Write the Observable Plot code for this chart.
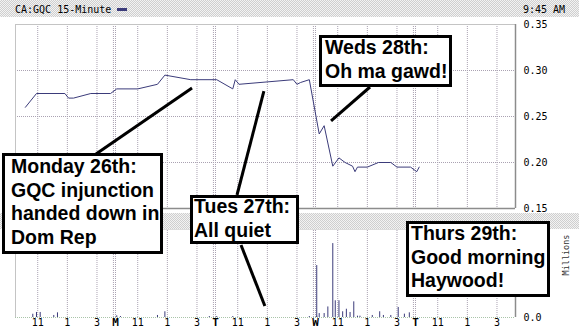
<!DOCTYPE html>
<html><head><meta charset="utf-8">
<script src="https://cdn.jsdelivr.net/npm/d3@7"></script>
<script src="https://cdn.jsdelivr.net/npm/@observablehq/plot@0.6"></script>
<style>
body{margin:0;background:#fff;}
#c{position:relative;width:579px;height:335px;overflow:hidden;font-family:"DejaVu Sans Mono",monospace;}
.pat{position:absolute;left:0;width:579px;background:repeating-conic-gradient(#cfcfcf 0 25%, #f3f3f3 0 50%) 0 0/2px 2px;}
.abs{position:absolute;}
#c svg{position:absolute;left:0;}
.hdr{position:absolute;font-size:10px;line-height:10px;color:#000;white-space:pre;}
</style></head>
<body><div id="c"></div>
<script>
// ---------- data ----------
const dayLetters = ["", "M", "T", "W", "T"];
const hourTicks = [11, 13, 15];
const hourLabels = ["11", "1", "3"];
const priceTicks = [0.15, 0.20, 0.25, 0.30, 0.35];
const volumeTicks = [0];

const priceDay   = [0,0,0,0,0,0,0, 1,1,1,1,1, 2,2,2,2,2,2,2,2, 3,3,3,3,3,3,3,3,3,3,3,3,3, 4,4];
const priceTime  = ["10:10","10:55","12:50","13:05","13:25","14:35","15:55",
                    "09:35","11:00","12:20","12:50","14:35",
                    "09:35","10:40","10:50","11:05","14:45","15:00","15:15","15:50",
                    "09:45","10:05","10:40","11:05","11:30","12:00","12:10","12:20","13:00","13:45","14:35","15:00","15:55",
                    "09:35","09:45"];
const priceValue = [0.260,0.275,0.275,0.270,0.270,0.275,0.275,
                    0.280,0.280,0.285,0.295,0.290,
                    0.290,0.280,0.290,0.285,0.290,0.285,0.287,0.290,
                    0.231,0.240,0.196,0.205,0.200,0.196,0.190,0.195,0.195,0.200,0.200,0.195,0.195,
                    0.190,0.195];

const volDay   = [0,0,0,0,0, 1,1,1,1,1, 2,2,2, 3,3,3,3,3,3,3,3,3,3,3,3,3,3,3,3,3,3,3,3,3, 4];
const volTime  = ["10:40","10:55","11:10","12:05","12:20",
                  "09:35","09:50","12:20","12:50","15:50",
                  "09:35","10:40","15:50",
                  "09:35","09:45","10:05","10:20","10:40","10:50","11:05","11:20","11:35","11:50","12:05","12:20","12:30","13:20","13:50","14:05","14:35","15:05","15:30","15:50",
                  "09:35"];
const volValue = [0.037,0.057,0.057,0.023,0.053,
                  0.019,0.011,0.023,0.065,0.011,
                  0.011,0.011,0.011,
                  0.59,0.045,0.045,0.12,0.84,0.19,0.19,0.065,0.094,0.057,0.178,0.015,0.015,0.023,0.065,0.023,0.023,0.114,0.038,0.053,
                  0.015];

const notes = [
  {lines:["Monday 26th:","GQC injunction","handed down in","Dom Rep"]},
  {lines:["Tues 27th:","All quiet"]},
  {lines:["Weds 28th:","Oh ma gawd!"]},
  {lines:["Thurs 29th:","Good morning","Haywood!"]}
];
// leader targets in data coordinates: [day, time, value, panel]
const leaderTargets = [
  [1,"14:42",0.2804,"price"],
  [2,"12:48",0.277,"price"],
  [2,"12:52",0.125,"volume"],
  [3,"10:35",0.2446,"price"]
];

// ---------- helpers ----------
const sessionHours = 6.75, openHour = 9.5, nDays = 5;
function pos(d, t){ const [h,m] = t.split(":").map(Number); return d*sessionHours + (h + m/60 - openHour); }
const price = priceValue.map((v,i)=>({x:pos(priceDay[i],priceTime[i]), v}));
const vol = volValue.map((v,i)=>({x:pos(volDay[i],volTime[i]), v}));
const xDomain = [0, nDays*sessionHours];
const hourTickData = [], dayTickData = [], grid = [];
for (let d=0; d<nDays; d++){
  hourTicks.forEach((h,i)=>{ const x=d*sessionHours+(h-openHour); hourTickData.push({x,label:hourLabels[i]}); grid.push(x); });
  if (dayLetters[d]) { dayTickData.push({x:d*sessionHours,label:dayLetters[d]}); grid.push(d*sessionHours, d*sessionHours-0.14); }
}
const navy = "#3b3b7a", gridC = "#aaa2b2", frameL = "#c4c4c4", frameD = "#8c8c8c";
const font = {fontFamily:"DejaVu Sans Mono, monospace", fontSize:"10px", background:"transparent", color:"#000", overflow:"visible"};

const c = document.getElementById("c");
function addDiv(cls, css, html){ const e=document.createElement("div"); e.className=cls; Object.assign(e.style, css); if(html!=null) e.innerHTML=html; c.appendChild(e); return e; }
addDiv("pat",{top:"0px",height:"17px"});
addDiv("pat",{top:"213px",height:"16px"});

const upper = Plot.plot({
  width:579, height:213, marginLeft:15, marginRight:64, marginTop:24, marginBottom:5,
  x:{domain:xDomain, axis:null},
  y:{domain:[0.15,0.35], axis:"right", ticks:priceTicks, tickFormat:d=>d.toFixed(2), tickSize:0, tickPadding:8, label:null},
  style:font,
  marks:[
    Plot.ruleY(priceTicks.slice(1,-1), {stroke:gridC, strokeDasharray:"1 1"}),
    Plot.ruleX(grid, {stroke:gridC, strokeDasharray:"1 1"}),
    Plot.ruleY([0.35], {stroke:frameL}),
    Plot.ruleX([xDomain[0]], {stroke:frameL}),
    Plot.ruleX([xDomain[1]], {stroke:frameD, strokeWidth:1.5}),
    Plot.ruleY([0.15], {stroke:frameD, strokeWidth:1.5}),
    Plot.line(price, {x:"x", y:"v", stroke:navy, strokeWidth:1})
  ]
});
upper.style.top="0px";
c.appendChild(upper);

const lowerTop = 229;
const lower = Plot.plot({
  width:579, height:106, marginLeft:15, marginRight:64, marginTop:0, marginBottom:18,
  x:{domain:xDomain, axis:null},
  y:{domain:[0,1], axis:"right", ticks:volumeTicks, tickFormat:d=>d.toFixed(1), tickSize:0, tickPadding:8, label:null},
  style:font,
  marks:[
    Plot.ruleX(grid, {y1:()=>0, y2:()=>1, stroke:gridC, strokeDasharray:"1 1"}),
    Plot.ruleX([xDomain[0]], {stroke:frameL}),
    Plot.ruleY([1], {stroke:"#ddd"}),
    Plot.ruleX([xDomain[1]], {stroke:frameD, strokeWidth:1.5}),
    Plot.ruleY([0], {stroke:"#a9c4a9", strokeDasharray:"1 1"}),
    Plot.ruleX(vol, {x:"x", y1:()=>0, y2:"v", stroke:navy, strokeWidth:1}),
    Plot.text(hourTickData, {x:"x", text:"label", frameAnchor:"bottom", dy:8, fill:"#000"}),
    Plot.text(dayTickData, {x:"x", text:"label", frameAnchor:"bottom", dy:8, fill:"#000", fontWeight:"bold", fontSize:11})
  ]
});
lower.style.top=lowerTop+"px";
c.appendChild(lower);

// header
addDiv("hdr",{left:"15px",top:"5px"},"CA:GQC 15-Minute");
addDiv("abs",{left:"117px",top:"8px",width:"10px",height:"3px",background:navy});
addDiv("hdr",{left:"523px",top:"5px"},"9:45 AM");
addDiv("abs",{left:"561px",top:"250px",width:"10px",height:"10px"}).innerHTML =
  '<div style="position:absolute;left:0;top:0;transform:translate(-50%,-50%) rotate(-90deg);transform-origin:50% 50%;font-size:8.5px;color:#333;white-space:nowrap;line-height:9px;margin-left:5px;margin-top:5px">Millions</div>';

// annotations overlay
const xs = upper.scale("x"), ysP = upper.scale("y"), ysV = lower.scale("y");
const ns = "http://www.w3.org/2000/svg";
const ov = document.createElementNS(ns,"svg");
ov.setAttribute("width",579); ov.setAttribute("height",335);
ov.style.position="absolute"; ov.style.left="0"; ov.style.top="0";
c.appendChild(ov);
function el(tag, attrs, parent){ const e=document.createElementNS(ns,tag); for(const k in attrs) e.setAttribute(k,attrs[k]); (parent||ov).appendChild(e); return e; }
// leader lines (box side start, data target end)
const leaderStarts = [[96,154],[237,195],[241,245],[370,87]];
leaderTargets.forEach(([d,t,v,p],i)=>{
  const tx = xs.apply(pos(d,t));
  const ty = p==="price" ? ysP.apply(v) : lowerTop + ysV.apply(v);
  el("line",{x1:leaderStarts[i][0],y1:leaderStarts[i][1],x2:tx,y2:ty,stroke:"#000","stroke-width":3});
});
const boxes = [
  {x:2,y:153,w:161,h:101,tx:11,ty:173},
  {x:190,y:195,w:109,h:49,tx:194,ty:213},
  {x:319,y:35,w:133,h:52,tx:325,ty:54},
  {x:406,y:221,w:144,h:76,tx:411,ty:240}
];
boxes.forEach((b,i)=>{
  el("rect",{x:b.x+1.5,y:b.y+1.5,width:b.w-3,height:b.h-3,fill:"#fff",stroke:"#000","stroke-width":3});
  notes[i].lines.forEach((s,j)=>{
    const t = el("text",{x:b.tx,y:b.ty+j*23.6,"font-family":"Liberation Sans, Arial, sans-serif","font-weight":"bold","font-size":"19.5px",fill:"#000"});
    t.textContent = s;
  });
});
</script></body></html>
